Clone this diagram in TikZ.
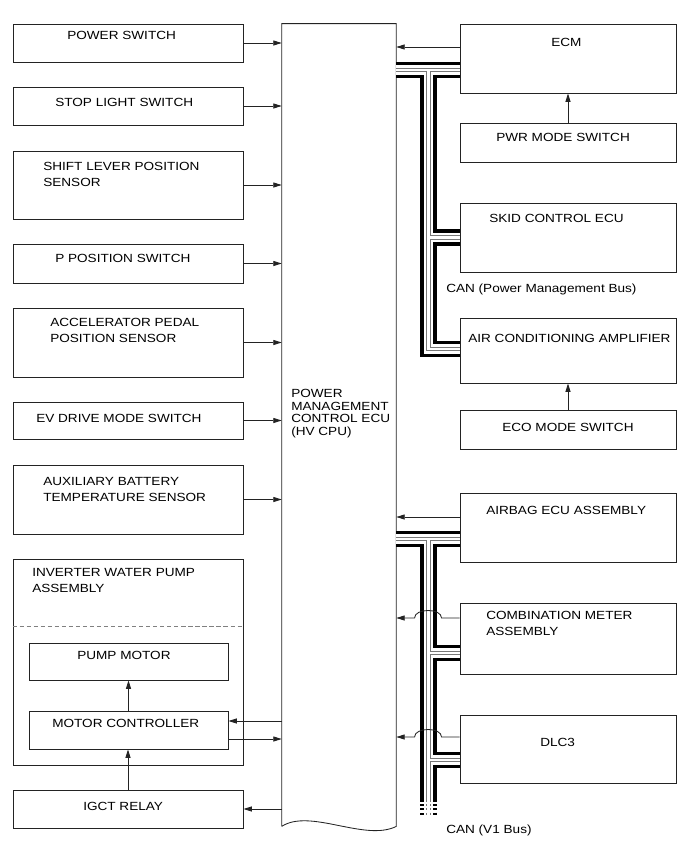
\documentclass[tikz,border=0pt]{standalone}
\usepackage{fontspec}
\newfontfamily\diagfont{Liberation Sans}[FakeStretch=1.15]
\usepackage{tikz}
\usetikzlibrary{arrows.meta, calc}
\definecolor{wireInk}{RGB}{35, 35, 35}
\definecolor{busGrey}{RGB}{120, 120, 120}

\begin{document}
\begin{tikzpicture}[
    x=0.025cm, y=-0.025cm,
    blockBox/.style={draw=wireInk, line width=0.6pt, inner sep=0pt},
    leftBox/.style={blockBox, minimum width=5.75cm},
    rightBox/.style={blockBox, minimum width=5.4cm},
    boxText/.style={anchor=north west, inner sep=0pt, align=left, font={\diagfont\fontsize{8.4}{11.4}\selectfont}},
    sigArrow/.style={draw=wireInk, line width=0.6pt, -{Triangle[length=6pt, width=3.6pt]}},
    canBus/.style={draw=black, line width=11.4pt,
        postaction={draw=white, line width=7.1pt},
        postaction={draw=busGrey, line width=3.4pt},
        postaction={draw=white, line width=1.8pt}}
]
\useasboundingbox (0,0) rectangle (690,855);

% Power management control ECU (torn bottom edge)
\node[minimum width=2.85cm, minimum height=20.05cm, inner sep=0pt] (ecu) at (339,425) {};
\draw[draw=wireInk, line width=0.6pt] (ecu.south west) -- (ecu.north west) -- (ecu.north east) -- (ecu.south east)
    .. controls (365,842) and (310,808) .. (ecu.south west);
\node[boxText, font={\diagfont\fontsize{8.4}{9}\selectfont}] (ecuText) at (291,389) {POWER\\MANAGEMENT\\CONTROL ECU\\(HV CPU)};

% Inputs (left)
\node[leftBox, minimum height=0.95cm] (pwrSw) at (128,43) {};
\node[boxText] (pwrSwText) at (67,31) {POWER SWITCH};
\node[leftBox, minimum height=0.95cm] (stopSw) at (128,106) {};
\node[boxText] (stopSwText) at (55,98) {STOP LIGHT SWITCH};
\node[leftBox, minimum height=1.7cm] (shiftSen) at (128,185) {};
\node[boxText] (shiftSenText) at (43,162) {SHIFT LEVER POSITION\\SENSOR};
\node[leftBox, minimum height=0.975cm] (pSw) at (128,263.5) {};
\node[boxText] (pSwText) at (55,254) {P POSITION SWITCH};
\node[leftBox, minimum height=1.725cm] (accSen) at (128,342.5) {};
\node[boxText] (accSenText) at (50,318) {ACCELERATOR PEDAL\\POSITION SENSOR};
\node[leftBox, minimum height=0.925cm] (evSw) at (128,420.5) {};
\node[boxText] (evSwText) at (36,414) {EV DRIVE MODE SWITCH};
\node[leftBox, minimum height=1.725cm] (auxSen) at (128,499.5) {};
\node[boxText] (auxSenText) at (43,477) {AUXILIARY BATTERY\\TEMPERATURE SENSOR};

\draw[sigArrow] (pwrSw.east) -- (pwrSw.east -| ecu.west);
\draw[sigArrow] (stopSw.east) -- (stopSw.east -| ecu.west);
\draw[sigArrow] (shiftSen.east) -- (shiftSen.east -| ecu.west);
\draw[sigArrow] (pSw.east) -- (pSw.east -| ecu.west);
\draw[sigArrow] (accSen.east) -- (accSen.east -| ecu.west);
\draw[sigArrow] (evSw.east) -- (evSw.east -| ecu.west);
\draw[sigArrow] (auxSen.east) -- (auxSen.east -| ecu.west);

% Inverter water pump assembly
\node[leftBox, minimum height=5.15cm] (pumpAssy) at (128,662) {};
\node[boxText] (pumpAssyText) at (32,568) {INVERTER WATER PUMP\\ASSEMBLY};
\draw[draw=gray, line width=0.5pt, dash pattern=on 3pt off 2pt] (pumpAssy.west |- 0,626) -- (pumpAssy.east |- 0,626);
\node[blockBox, minimum width=4.975cm, minimum height=0.925cm] (pumpMot) at (128.5,661.5) {};
\node[boxText] (pumpMotText) at (77,651) {PUMP MOTOR};
\node[blockBox, minimum width=4.975cm, minimum height=0.95cm] (motCtrl) at (128.5,730) {};
\node[boxText] (motCtrlText) at (52,719) {MOTOR CONTROLLER};
\node[leftBox, minimum height=0.95cm] (igct) at (128,809) {};
\node[boxText] (igctText) at (83,802) {IGCT RELAY};

\draw[sigArrow] (motCtrl.north) -- (motCtrl.north |- pumpMot.south);
\draw[sigArrow] (igct.north) -- (igct.north |- motCtrl.south);
\coordinate (mcIn) at ([yshift=0.225cm]motCtrl.east);
\coordinate (mcOut) at ([yshift=-0.225cm]motCtrl.east);
\draw[sigArrow] (mcIn -| ecu.west) -- (mcIn);
\draw[sigArrow] (mcOut) -- (mcOut -| ecu.west);
\draw[sigArrow] (igct.east -| ecu.west) -- (igct.east);

% Power management bus side (right)
\node[rightBox, minimum height=1.725cm] (ecm) at (568,58.5) {};
\node[boxText] (ecmText) at (551,38) {ECM};
\node[rightBox, minimum height=0.975cm] (pwrMode) at (568,142.5) {};
\node[boxText] (pwrModeText) at (496,133) {PWR MODE SWITCH};
\node[rightBox, minimum height=1.725cm] (skid) at (568,237.5) {};
\node[boxText] (skidText) at (489,214) {SKID CONTROL ECU};
\node[boxText] (pmBusText) at (446,284) {CAN (Power Management Bus)};
\node[rightBox, minimum height=1.625cm] (airCon) at (568,350.5) {};
\node[boxText] (airConText) at (468,334) {AIR CONDITIONING AMPLIFIER};
\node[rightBox, minimum height=0.975cm] (eco) at (568,429.5) {};
\node[boxText] (ecoText) at (502,423) {ECO MODE SWITCH};

\coordinate (pmJoin) at (428.5,70);
\coordinate (pmBend) at (428.5,349);
\draw[canBus] (ecu.east |- pmJoin) -- (ecm.west |- pmJoin)
    (pmJoin) -- (pmBend) -- (airCon.west |- pmBend)
    (pmJoin |- skid.west) -- (skid.west);

\coordinate (ecmOut) at ([yshift=0.2875cm]ecm.west);
\draw[sigArrow] (ecmOut) -- (ecmOut -| ecu.east);
\draw[sigArrow] (pwrMode.north) -- (ecm.south);
\draw[sigArrow] (eco.north) -- (airCon.south);

% V1 bus side (right)
\node[rightBox, minimum height=1.725cm] (airbag) at (568,527.5) {};
\node[boxText] (airbagText) at (486,506) {AIRBAG ECU ASSEMBLY};
\node[rightBox, minimum height=1.775cm] (comb) at (568,638.5) {};
\node[boxText] (combText) at (486,611) {COMBINATION METER\\ASSEMBLY};
\node[rightBox, minimum height=1.7cm] (dlc) at (568,749) {};
\node[boxText] (dlcText) at (540,738) {DLC3};
\node[boxText] (v1BusText) at (446,825) {CAN (V1 Bus)};

\coordinate (v1Join) at (428.5,539);
\coordinate (v1End) at (428.5,800);
\coordinate (v1Tail) at (428.5,815);
\coordinate (combBus) at ([yshift=-0.3625cm]comb.west);
\coordinate (dlcBus) at ([yshift=-0.275cm]dlc.west);
\draw[canBus] (ecu.east |- v1Join) -- (airbag.west |- v1Join)
    (v1Join) -- (v1End)
    (v1Join |- combBus) -- (combBus)
    (v1Join |- dlcBus) -- (dlcBus);
\draw[canBus, dash pattern=on 1.4pt off 1.6pt] (v1End) -- (v1Tail);

\coordinate (airbagOut) at ([yshift=0.2625cm]airbag.west);
\coordinate (combOut) at ([yshift=0.5125cm]comb.west);
\coordinate (dlcOut) at ([yshift=0.3cm]dlc.west);
\draw[sigArrow] (airbagOut) -- (airbagOut -| ecu.east);
\draw[sigArrow] (combOut) -- ++(-18,0) .. controls +(0,-10) and +(0,-10) .. ++(-27,0) -- (combOut -| ecu.east);
\draw[sigArrow] (dlcOut) -- ++(-18,0) .. controls +(0,-10) and +(0,-10) .. ++(-27,0) -- (dlcOut -| ecu.east);

\end{tikzpicture}
\end{document}
